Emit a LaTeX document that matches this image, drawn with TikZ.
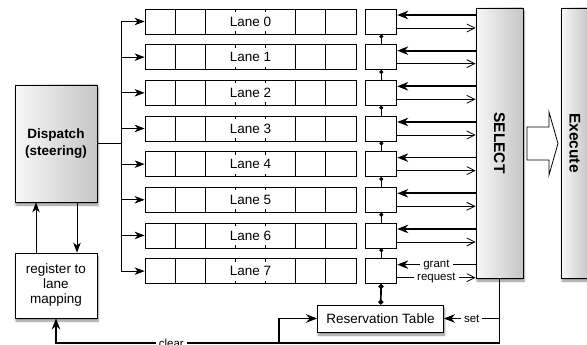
\documentclass[tikz,border=0pt]{standalone}
\usepackage{fontspec}
\setmainfont{Liberation Sans}
\usetikzlibrary{arrows,arrows.meta,positioning,shadows.blur,calc}

\begin{document}
\begin{tikzpicture}[x=1pt,y=-1pt,line width=0.8pt,>={Stealth[length=10pt,width=7.5pt,inset=3pt]},
  node distance=9.86pt and 9pt,font=\fontsize{13.5}{15}\selectfont]
  \tikzstyle{lane}=[draw,minimum width=211pt,minimum height=25pt,inner sep=0pt,
    path picture={
      \foreach \d in {30,60,150,180}
        \draw ([xshift=\d pt]path picture bounding box.north west) -- ([xshift=\d pt]path picture bounding box.south west);
      \foreach \d in {90,120}{
        \draw ([xshift=\d pt]path picture bounding box.north west) -- +(0pt,-3pt);
        \draw ([xshift=\d pt]path picture bounding box.south west) -- +(0pt,3pt);}
    }]
  \tikzstyle{slot}=[draw,minimum width=31pt,minimum height=25pt,inner sep=0pt]
  \tikzstyle{unit}=[draw,left color=gray!6,right color=gray!45,
    blur shadow={shadow xshift=1pt,shadow yshift=-3pt,shadow blur steps=6,shadow opacity=45}]
  \tikzstyle{box}=[draw,fill=white,
    blur shadow={shadow xshift=1pt,shadow yshift=-3pt,shadow blur steps=6,shadow opacity=45}]
  \tikzstyle{gnt}=[line width=1.7pt,-{Stealth[length=11pt,width=8.5pt,inset=3.5pt]}]
  \tikzstyle{req}=[-{Straight Barb[length=8pt,width=8pt]}]
  \tikzstyle{lbl}=[fill=white,inner xsep=3pt,inner ysep=0.5pt,font=\fontsize{11.5}{13}\selectfont]

  \clip (0,0) rectangle (587,345);

  \node[lane] (L0) at (250.5,21.5) {Lane 0};
  \node[lane] (L1) [below=of L0] {Lane 1};
  \node[lane] (L2) [below=of L1] {Lane 2};
  \node[lane] (L3) [below=of L2] {Lane 3};
  \node[lane] (L4) [below=of L3] {Lane 4};
  \node[lane] (L5) [below=of L4] {Lane 5};
  \node[lane] (L6) [below=of L5] {Lane 6};
  \node[lane] (L7) [below=of L6] {Lane 7};

  \node[slot] (B0) [right=of L0] {};
  \node[slot] (B1) [right=of L1] {};
  \node[slot] (B2) [right=of L2] {};
  \node[slot] (B3) [right=of L3] {};
  \node[slot] (B4) [right=of L4] {};
  \node[slot] (B5) [right=of L5] {};
  \node[slot] (B6) [right=of L6] {};
  \node[slot] (B7) [right=of L7] {};

  \node[unit,minimum width=47pt,minimum height=270pt,
    label={[rotate=-90,font=\fontsize{15.5}{18}\selectfont\bfseries]center:SELECT}] (S) at (499.5,143) {};
  \node[unit,minimum width=28pt,minimum height=270pt,
    label={[rotate=-90,font=\fontsize{15.5}{18}\selectfont\bfseries]center:Execute}] (E) at (575,143) {};
  \draw[fill=white] (527,127) -- (549,127) -- (549,112) -- (558,143.5) -- (549,175) -- (549,160) -- (527,160) -- cycle;

  \node[unit,minimum width=82pt,minimum height=117pt,align=center,
    font=\fontsize{13.5}{17.5}\selectfont\bfseries] (D) at (56,143.5) {Dispatch\\(steering)};
  \node[box,minimum width=82pt,minimum height=65pt,align=center] (M) at (56,285.5) {register to\\lane\\mapping};
  \node[box,minimum width=126pt,minimum height=27pt] (R) at (380.5,318.5) {Reservation Table};

  \coordinate (T) at (121,143.5);
  \coordinate (K) at (S.south |- 0,343);
  \coordinate (J) at (279,343);

  % dispatch bus
  \draw (D.east) -- (T);
  \draw (T |- L0) -- (T |- L7);
  \foreach \i in {0,...,7}
    \draw[->] (T |- L\i) -- (L\i);
  \draw[->] ([xshift=-20pt]M.north) -- ([xshift=-20pt]D.south);
  \draw[->] ([xshift=21pt]D.south) -- ([xshift=21pt]M.north);

  % slot chain
  \foreach \i [evaluate=\i as \j using int(\i+1)] in {0,...,6}
    \draw[{Circle[length=4pt]}-] (B\i) -- (B\j);
  \draw[line width=1.7pt,{Circle[length=5pt]}-{Circle[length=5pt]}] (B7) -- (R);

  % select handshake
  \foreach \i in {0,...,6}{
    \draw[gnt] ($(S.west |- B\i)+(0,-6.5)$) -- ($(B\i.east)+(0,-6.5)$);
    \draw[req] ($(B\i.east)+(0,6.5)$) -- ($(S.west |- B\i)+(0,6.5)$);
  }
  \draw[gnt] ($(S.west |- B7)+(0,-6.5)$) -- node[lbl] {grant} ($(B7.east)+(0,-6.5)$);
  \draw[req] ($(B7.east)+(0,6.5)$) -- node[lbl] {request} ($(S.west |- B7)+(0,6.5)$);

  % set / clear
  \draw[gnt] (S.south) -- (K) -| node[pos=0.37,lbl] {clear} (M.south);
  \draw[gnt] (S.south |- R.east) -- node[lbl] {set} (R.east);
  \draw[gnt] (J) |- (R.west);
\end{tikzpicture}
\end{document}
